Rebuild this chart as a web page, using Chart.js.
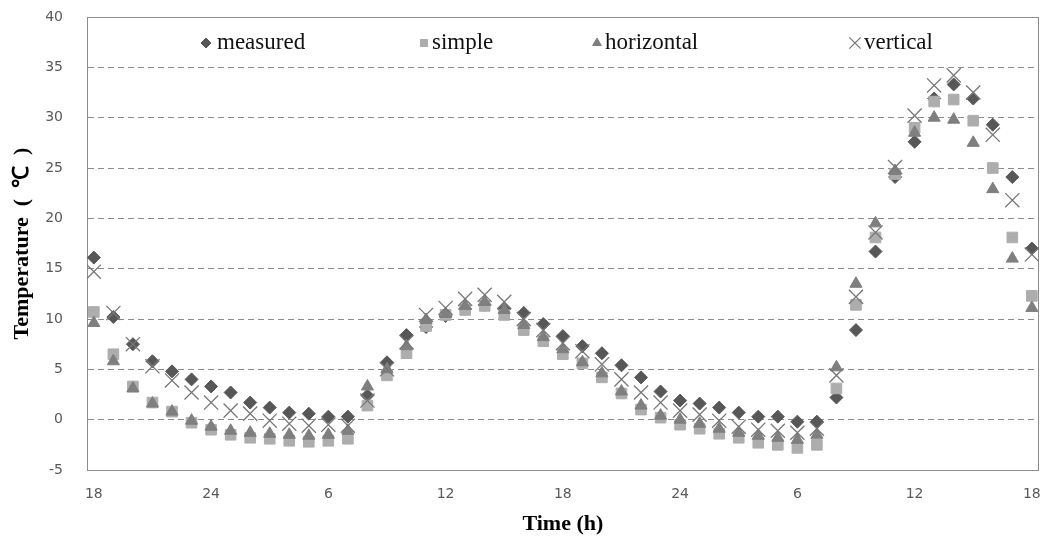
<!DOCTYPE html>
<html>
<head>
<meta charset="utf-8">
<title>Temperature</title>
<script src="https://cdn.jsdelivr.net/npm/chart.js@4.4.0/dist/chart.umd.min.js"></script>
<style>
  html, body { margin: 0; padding: 0; background: #ffffff; }
  #wrap { width: 1050px; height: 547px; }
</style>
</head>
<body>
<div id="wrap"><canvas id="c" width="1050" height="547"></canvas></div>
<script>
// Elapsed hours from 18:00 on the first day (hourly readings over 48 h)
const hours = [0, 1, 2, 3, 4, 5, 6, 7, 8, 9, 10, 11, 12, 13, 14, 15, 16, 17, 18, 19, 20, 21, 22, 23, 24,
               25, 26, 27, 28, 29, 30, 31, 32, 33, 34, 35, 36, 37, 38, 39, 40, 41, 42, 43, 44, 45, 46, 47, 48];

// Clock-time tick labels every 6 h
const tickHours  = [0, 6, 12, 18, 24, 30, 36, 42, 48];
const tickLabels = ['18', '24', '6', '12', '18', '24', '6', '12', '18'];

// Temperature (°C)
const measured = [16.1, 10.2, 7.5, 5.8, 4.8, 4.0, 3.3, 2.7, 1.7, 1.2, 0.7, 0.6, 0.3, 0.3, 2.4, 5.7, 8.4, 9.2,
                  10.3, 11.0, 11.4, 11.0, 10.6, 9.5, 8.3, 7.3, 6.6, 5.4, 4.2, 2.8, 1.9, 1.6, 1.2, 0.7, 0.3, 0.3,
                  -0.2, -0.2, 2.2, 8.9, 16.7, 24.1, 27.6, 31.9, 33.3, 31.9, 29.3, 24.1, 17.0];
const simple   = [10.7, 6.5, 3.3, 1.7, 0.8, -0.3, -1.0, -1.5, -1.8, -1.9, -2.1, -2.2, -2.1, -1.9, 1.4, 4.4, 6.6, 9.3,
                  10.4, 10.9, 11.3, 10.4, 8.9, 7.8, 6.5, 5.6, 4.2, 2.6, 1.0, 0.2, -0.5, -0.9, -1.4, -1.8, -2.3, -2.5,
                  -2.8, -2.5, 3.1, 11.4, 18.1, 24.4, 29.0, 31.6, 31.8, 29.7, 25.0, 18.1, 12.3];
const horizontal = [9.6, 5.8, 3.1, 1.6, 0.8, -0.1, -0.7, -1.1, -1.3, -1.4, -1.5, -1.6, -1.5, -1.1, 3.3, 5.0, 7.3, 9.9,
                  10.5, 11.3, 11.7, 10.9, 9.4, 8.2, 7.0, 5.7, 4.6, 2.8, 1.4, 0.4, 0.0, -0.4, -0.9, -1.3, -1.6, -1.8,
                  -2.0, -1.5, 5.2, 13.5, 19.5, 24.7, 28.5, 30.0, 29.8, 27.5, 22.9, 16.0, 11.1];
const vertical = [14.7, 10.6, 7.5, 5.3, 3.9, 2.7, 1.7, 0.9, 0.6, -0.1, -0.4, -0.6, -0.5, -0.6, 1.9, 5.0, 7.7, 10.4,
                  11.1, 12.0, 12.4, 11.7, 10.0, 8.9, 7.6, 6.8, 5.5, 4.0, 2.7, 1.7, 0.9, 0.5, -0.1, -0.7, -1.0, -1.1,
                  -1.3, -0.9, 4.4, 12.2, 18.6, 25.1, 30.2, 33.2, 34.2, 32.5, 28.3, 21.8, 16.4];

const toPoints = arr => hours.map((h, i) => ({ x: h, y: arr[i] }));

const AXIS_GREY = '#8c8c8c';

// Draws the plot-area frame (top and right edges included)
const frame = {
  id: 'frame',
  beforeDatasetsDraw(chart) {
    const { ctx, chartArea: a } = chart;
    ctx.save();
    ctx.strokeStyle = AXIS_GREY;
    ctx.lineWidth = 1;
    ctx.strokeRect(Math.round(a.left) + 0.5, Math.round(a.top) + 0.5,
                   Math.round(a.right - a.left) - 1, Math.round(a.bottom - a.top));
    ctx.restore();
  }
};

// Legend row drawn inside the plot area, one item per dataset
const legendSlots = [
  { marker: 206, text: 217 },
  { marker: 424, text: 432 },
  { marker: 597, text: 605 },
  { marker: 855, text: 864 }
];
const inlineLegend = {
  id: 'inlineLegend',
  afterDraw(chart) {
    const ctx = chart.ctx;
    const y = 43;
    ctx.save();
    chart.data.datasets.forEach((ds, i) => {
      const slot = legendSlots[i];
      ctx.fillStyle = ds.backgroundColor;
      ctx.strokeStyle = ds.borderColor;
      ctx.lineWidth = ds.borderWidth;
      Chart.helpers.drawPoint(ctx, {
        pointStyle: ds.pointStyle,
        rotation: 0,
        radius: ds.legendRadius,
        borderWidth: ds.borderWidth
      }, slot.marker, y);
      ctx.fillStyle = '#111111';
      ctx.font = '23px "Liberation Serif", "Times New Roman", serif';
      ctx.textAlign = 'left';
      ctx.textBaseline = 'middle';
      ctx.fillText(ds.label, slot.text, y);
    });
    ctx.restore();
  }
};

const tickFont = { family: '"DejaVu Sans", Verdana, sans-serif', size: 14 };
const titleFont = { family: '"Liberation Serif", "Times New Roman", serif', size: 22, weight: 'bold' };

new Chart(document.getElementById('c'), {
  type: 'scatter',
  data: {
    datasets: [
      { label: 'measured', data: toPoints(measured), pointStyle: 'rectRot', pointRadius: 6.5,
        backgroundColor: '#575757', borderColor: '#575757', borderWidth: 1, legendRadius: 5, order: 4 },
      { label: 'simple', data: toPoints(simple), pointStyle: 'rect', pointRadius: 7.5,
        backgroundColor: '#adadad', borderColor: '#adadad', borderWidth: 1, legendRadius: 5, order: 3 },
      { label: 'horizontal', data: toPoints(horizontal), pointStyle: 'triangle', pointRadius: 7,
        backgroundColor: '#7f7f7f', borderColor: '#7f7f7f', borderWidth: 1, legendRadius: 5, order: 2 },
      { label: 'vertical', data: toPoints(vertical), pointStyle: 'crossRot', pointRadius: 10,
        backgroundColor: '#777777', borderColor: '#777777', borderWidth: 1.3, legendRadius: 8, order: 1 }
    ]
  },
  options: {
    responsive: false,
    animation: false,
    devicePixelRatio: 1,
    events: [],
    layout: { padding: { top: 17, right: 5, left: 0, bottom: 0 } },
    plugins: {
      legend: { display: false },
      tooltip: { enabled: false }
    },
    scales: {
      x: {
        type: 'linear',
        min: -0.35,
        max: 48.35,
        afterBuildTicks(scale) { scale.ticks = tickHours.map(v => ({ value: v })); },
        afterFit(scale) {
          scale.height = 77;
          scale.paddingLeft = 0; scale.paddingRight = 0;
          scale.paddingTop = 0; scale.paddingBottom = 0;
        },
        grid: { display: false, drawTicks: false },
        border: { display: true, color: AXIS_GREY, width: 1 },
        ticks: {
          padding: 16,
          autoSkip: false,
          maxRotation: 0,
          color: '#595959',
          font: tickFont,
          callback: v => tickLabels[tickHours.indexOf(v)]
        },
        title: { display: true, text: 'Time (h)', color: '#000000', font: titleFont, padding: { top: 0, bottom: 9 } }
      },
      y: {
        min: -5,
        max: 40,
        afterFit(scale) {
          scale.width = 87;
          scale.paddingLeft = 0; scale.paddingRight = 0;
          scale.paddingTop = 0; scale.paddingBottom = 0;
        },
        grid: { color: AXIS_GREY, lineWidth: 1, drawTicks: false },
        border: {
          display: true, color: AXIS_GREY, width: 1,
          dash: c => (c.tick && c.tick.value > -5 && c.tick.value < 40) ? [6, 4] : []
        },
        ticks: { stepSize: 5, padding: 24, color: '#595959', font: tickFont },
        title: {
          display: true, text: 'Temperature\u2002(\u2002℃\u2002)', color: '#000000', font: titleFont,
          padding: { top: 9, bottom: 0 }
        }
      }
    }
  },
  plugins: [frame, inlineLegend]
});
</script>
</body>
</html>
